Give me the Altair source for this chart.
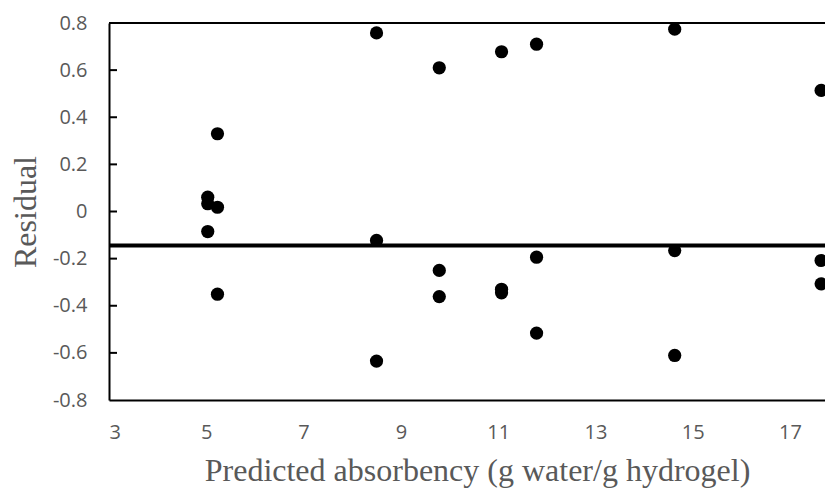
import altair as alt
import pandas as pd

# Data
predicted = [5.03, 5.03, 5.03, 5.23, 5.23, 5.23,
             8.50, 8.50, 8.50, 9.79, 9.79, 9.79,
             11.07, 11.07, 11.07, 11.79, 11.79, 11.79,
             14.63, 14.63, 14.63, 17.64, 17.64, 17.64]
residual = [0.061, 0.033, -0.085, 0.33, 0.018, -0.351,
            0.758, -0.123, -0.635, 0.61, -0.25, -0.361,
            0.678, -0.33, -0.345, 0.71, -0.194, -0.516,
            0.774, -0.166, -0.611, 0.514, -0.208, -0.307]
mean_line = [-0.144]
top_border = [0.8]
x_ticks = [3, 5, 7, 9, 11, 13, 15, 17]
y_ticks = [-0.8, -0.6, -0.4, -0.2, 0, 0.2, 0.4, 0.6, 0.8]
inner_ticks = [-0.6, -0.4, -0.2, 0, 0.2, 0.4, 0.6]

df = pd.DataFrame({"x": predicted, "y": residual})

GRAY = "#595959"
xscale = alt.Scale(domain=[3, 17.72], nice=False, zero=False)
yscale = alt.Scale(domain=[-0.8, 0.8], nice=False, zero=False)

xaxis = alt.Axis(
    values=x_ticks, ticks=False, grid=False,
    domainColor="black", domainWidth=2,
    labelFont="Open Sans", labelFontSize=20, labelColor=GRAY,
    labelBaseline="alphabetic", labelPadding=38,
    title="Predicted absorbency (g water/g hydrogel)",
    titleFont="Liberation Serif", titleFontSize=32, titleColor=GRAY,
    titleFontWeight="normal", titleX=368, titleY=80,
    titleBaseline="alphabetic", titleAlign="center",
)
yaxis = alt.Axis(
    values=y_ticks, ticks=False, grid=False,
    domainColor="black", domainWidth=2,
    labelFont="Open Sans", labelFontSize=20, labelColor=GRAY,
    labelPadding=22,
    labelExpr="abs(datum.value) < 1e-9 ? '0' : (datum.value < 0 ? '-' : '') + format(abs(datum.value), '.1f')",
    title="Residual",
    titleFont="Liberation Serif", titleFontSize=32, titleColor=GRAY,
    titleFontWeight="normal", titleX=-74, titleY=188.5,
    titleBaseline="alphabetic", titleAlign="center", titleAngle=270,
)

points = alt.Chart(df).mark_circle(size=175, color="black", opacity=1).encode(
    x=alt.X("x:Q", scale=xscale, axis=xaxis),
    y=alt.Y("y:Q", scale=yscale, axis=yaxis),
)

mean_rule = alt.Chart(pd.DataFrame({"y": mean_line})).mark_rule(
    color="black", strokeWidth=4
).encode(y=alt.Y("y:Q", scale=yscale))

top_rule = alt.Chart(pd.DataFrame({"y": top_border})).mark_rule(
    color="black", strokeWidth=2
).encode(y=alt.Y("y:Q", scale=yscale))

tick_rules = alt.Chart(pd.DataFrame({"y": inner_ticks})).mark_rule(
    color="black", strokeWidth=2
).encode(y=alt.Y("y:Q", scale=yscale), x=alt.value(0), x2=alt.value(8))

chart = alt.layer(top_rule, tick_rules, mean_rule, points).properties(
    width=716, height=377,
    autosize=alt.AutoSizeParams(type="none"),
    padding={"left": 109, "top": 23, "right": 0, "bottom": 88},
    background="white",
).configure_view(stroke=None)

chart.save("out.html", embed_options={"renderer": "svg", "actions": False})
